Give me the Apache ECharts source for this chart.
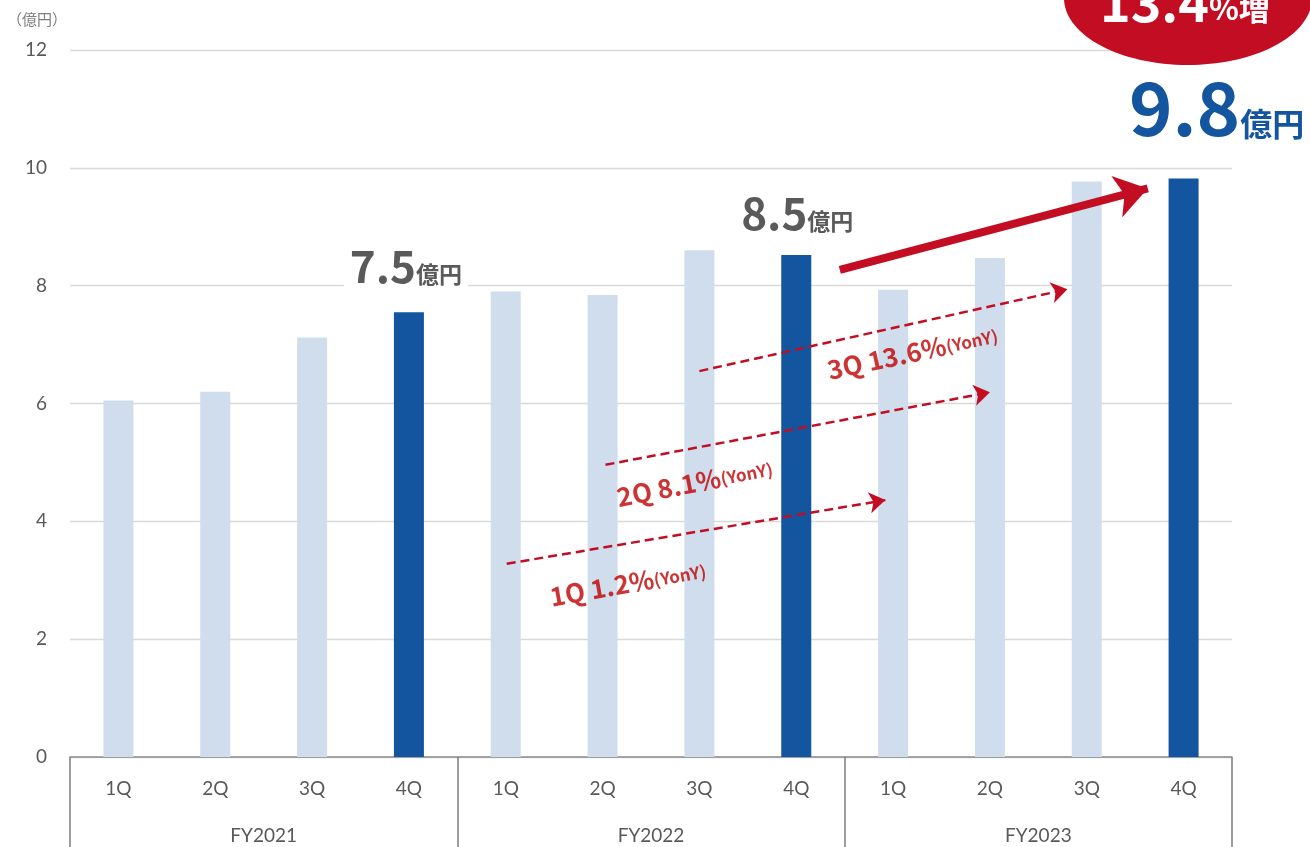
<!DOCTYPE html>
<html>
<head>
<meta charset="utf-8">
<script src="https://cdn.jsdelivr.net/npm/echarts@6/dist/echarts.min.js"></script>
<style>
html,body{margin:0;padding:0;background:#fff;}
#chart{width:1310px;height:847px;}
</style>
</head>
<body>
<div id="chart"></div>
<script>
// ---- data ----
const quarters = ['1Q','2Q','3Q','4Q','1Q','2Q','3Q','4Q','1Q','2Q','3Q','4Q'];
const fiscalYears = ['FY2021','FY2022','FY2023'];
const sales = [6.05, 6.2, 7.12, 7.55, 7.9, 7.84, 8.6, 8.52, 7.93, 8.47, 9.77, 9.82];
const yearEndLabels = ['7.5', '8.5', '9.8'];
const yoyQuarters = ['1Q', '2Q', '3Q'];
const yoyRates = ['1.2%', '8.1%', '13.6%'];
const growthRate = '13.4';
const yMin = 0, yMax = 12, yInterval = 2;

// ---- styles ----
const DARK = '#13569f';
const LIGHT = '#d0ddec';
const RED = '#c30d23';
const GRAY = '#595959';
const JP = '"Noto Sans CJK JP", "Noto Sans", sans-serif';
const LAT = 'Lato, "Open Sans", sans-serif';

const chart = echarts.init(document.getElementById('chart'), null, {renderer: 'canvas'});

const labelStyles = [
  {distance: 24, offset: [-3, 0], big: 44, small: 23, color: '#5a5a5a', bg: '#fff'},
  {distance: 20, offset: [1, 0], big: 44, small: 23, color: '#5a5a5a', bg: null},
  {distance: 34, offset: [33, 0], big: 74, small: 32, color: DARK, bg: null}
];

const barData = sales.map((v, i) => {
  const item = {value: v, itemStyle: {color: i % 4 === 3 ? DARK : LIGHT}};
  if (i % 4 === 3) {
    const k = Math.floor(i / 4);
    const s = labelStyles[k];
    item.label = {
      show: true,
      position: 'top',
      distance: s.distance,
      offset: s.offset,
      backgroundColor: s.bg || 'transparent',
      padding: [0, 6, 0, 6],
      formatter: '{n|' + yearEndLabels[k] + '}{u|億円}',
      rich: {
        n: {fontFamily: JP, fontWeight: 'bold', fontSize: s.big, color: s.color, lineHeight: s.big * 1.1, verticalAlign: 'bottom'},
        u: {fontFamily: JP, fontWeight: 'bold', fontSize: s.small, color: s.color, verticalAlign: 'bottom', padding: [0, 0, s.big * 0.06, 0]}
      }
    };
  }
  return item;
});

// annotation arrows in data space (x = category position, y = value)
const dashedArrows = [
  [[4.01, 3.28], [7.92, 4.36]],
  [[5.03, 4.96], [9.0, 6.19]],
  [[6.0, 6.55], [9.8, 7.94]]
];
const yoyLabelPos = [[5.26, 2.95, 10], [5.95, 4.66, 11], [8.2, 6.87, 12]];

const option = {
  animation: false,
  title: {
    text: '（億円）',
    left: 2, top: 7,
    textStyle: {fontFamily: JP, fontSize: 15, fontWeight: 'normal', color: '#7f7f7f'}
  },
  grid: {left: 70, right: 78, top: 50, bottom: 90, containLabel: false},
  xAxis: [
    {
      type: 'category', data: quarters, position: 'bottom',
      axisLine: {show: true, lineStyle: {color: '#8c8c8c', width: 1.5}},
      axisTick: {show: false},
      axisLabel: {fontFamily: LAT, fontSize: 19, color: GRAY, margin: 22},
      splitLine: {show: false}
    },
    {
      type: 'category', data: fiscalYears, position: 'bottom',
      axisLine: {show: false},
      axisTick: {show: true, length: 95, lineStyle: {color: '#7f7f7f', width: 1.5}},
      axisLabel: {fontFamily: LAT, fontSize: 19, color: GRAY, margin: 69},
      splitLine: {show: false}
    },
    {
      type: 'value', min: -0.5, max: 11.5, show: false
    }
  ],
  yAxis: {
    type: 'value', min: yMin, max: yMax, interval: yInterval,
    axisLine: {show: false}, axisTick: {show: false},
    axisLabel: {fontFamily: LAT, fontSize: 19, color: GRAY, margin: 23},
    splitLine: {lineStyle: {color: '#d9d9d9', width: 1.3}}
  },
  series: [
    {
      type: 'bar', xAxisIndex: 0, yAxisIndex: 0,
      barWidth: 30, data: barData, z: 2
    },
    {
      type: 'lines', coordinateSystem: 'cartesian2d', xAxisIndex: 2, yAxisIndex: 0,
      z: 5,
      symbol: ['none', 'arrow'], symbolSize: 16,
      lineStyle: {color: RED, width: 2.5, type: [9, 5], opacity: 1, curveness: 0},
      data: dashedArrows.map(c => ({coords: c}))
    },
    {
      type: 'lines', coordinateSystem: 'cartesian2d', xAxisIndex: 2, yAxisIndex: 0,
      z: 6,
      symbol: ['none', 'arrow'], symbolSize: 32,
      lineStyle: {color: RED, width: 8, opacity: 1, curveness: 0},
      data: [{coords: [[7.45, 8.27], [10.63, 9.65]]}]
    },
    {
      type: 'scatter', xAxisIndex: 2, yAxisIndex: 0, z: 7,
      symbolSize: 1, itemStyle: {color: 'transparent'},
      data: yoyLabelPos.map((p, i) => ({
        value: [p[0], p[1]],
        label: {
          show: true, position: 'inside', rotate: p[2],
          formatter: '{a|' + yoyQuarters[i] + ' ' + yoyRates[i] + '}{b|(YonY)}',
          rich: {
            a: {fontFamily: JP, fontSize: 26, color: '#c00000', fontWeight: 'bold', verticalAlign: 'bottom'},
            b: {fontFamily: JP, fontSize: 17, color: '#c00000', fontWeight: 'bold', verticalAlign: 'bottom', padding: [0, 0, 3, 0]}
          }
        }
      }))
    }
  ],
  graphic: [
    {
      type: 'ellipse', z: 100,
      shape: {cx: 1188, cy: -2, rx: 124, ry: 67},
      style: {fill: RED}
    },
    {
      type: 'text', z: 101, left: 1100, top: -24,
      style: {
        text: '{a|' + growthRate + '}{b|%増}',
        rich: {
          a: {fontFamily: JP, fontWeight: 'bold', fontSize: 52, fill: '#fff', verticalAlign: 'bottom'},
          b: {fontFamily: JP, fontWeight: 'bold', fontSize: 31, fill: '#fff', verticalAlign: 'bottom', padding: [0, 0, 4, 0]}
        }
      }
    }
  ]
};
chart.setOption(option);
</script>
</body>
</html>
